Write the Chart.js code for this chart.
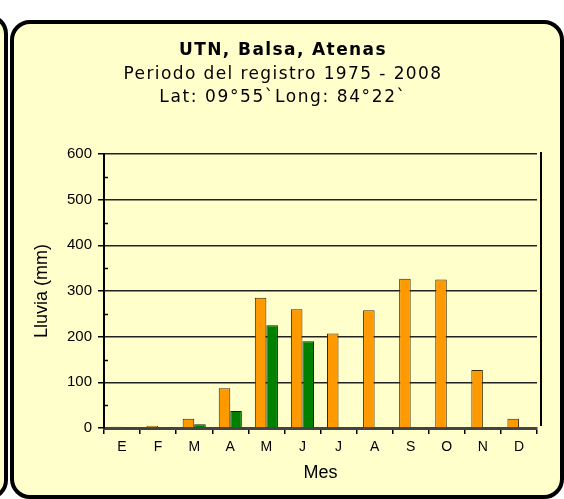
<!DOCTYPE html>
<html>
<head>
<meta charset="utf-8">
<script src="https://cdn.jsdelivr.net/npm/chart.js@4"></script>
<style>
  html, body { margin: 0; padding: 0; background: #ffffff; }
  body { width: 564px; height: 499px; position: relative; overflow: hidden; }
  .leftPanel { position: absolute; left: -200px; top: 14px; width: 200px; height: 478px;
    border: 4px solid #000; border-radius: 20px; background: #FFFFCC; }
  .mainPanel { position: absolute; left: 10px; top: 20px; width: 546px; height: 471px;
    border: 4px solid #000; border-radius: 20px; background: #FFFFCC; }
  canvas { position: absolute; left: 0; top: 0; }
</style>
</head>
<body>
<div class="leftPanel"></div>
<div class="mainPanel"></div>
<canvas id="c" width="564" height="499"></canvas>
<script>
// ---- data ----
const months = ["E", "F", "M", "A", "M", "J", "J", "A", "S", "O", "N", "D"];
const rainOrange = [3, 5, 20, 87, 285, 260, 207, 258, 327, 325, 127, 20];
const rainGreen  = [2, 1, 8, 37, 225, 190, null, null, null, null, null, null];
const yTicks = [0, 100, 200, 300, 400, 500, 600];
const titleLines = ["UTN, Balsa, Atenas", "Periodo del registro 1975 - 2008", "Lat: 09°55`Long: 84°22`"];

const titlePlugin = {
  id: 'titleText',
  afterDraw(chart) {
    const ctx = chart.ctx;
    ctx.save();
    ctx.fillStyle = '#000';
    ctx.textAlign = 'center';
    ctx.textBaseline = 'alphabetic';
    const cx = 283;
    ctx.letterSpacing = '1.4px';
    ctx.font = 'bold 17px "DejaVu Sans"';
    ctx.fillText(titleLines[0], cx, 55);
    ctx.font = '17px "DejaVu Sans"';
    ctx.fillText(titleLines[1], cx, 79);
    ctx.letterSpacing = '1.6px';
    ctx.fillText(titleLines[2], cx, 102);
    ctx.restore();
  }
};

const minorTicks = {
  id: 'minorTicks',
  afterDraw(chart) {
    const y = chart.scales.y;
    const ctx = chart.ctx;
    ctx.save();
    ctx.strokeStyle = '#000';
    ctx.lineWidth = 1.5;
    for (let i = 0; i < yTicks.length - 1; i++) {
      const v = (yTicks[i] + yTicks[i + 1]) / 2;
      const py = Math.round(y.getPixelForValue(v)) + 0.5;
      ctx.beginPath();
      ctx.moveTo(chart.chartArea.left, py);
      ctx.lineTo(chart.chartArea.left + 4, py);
      ctx.stroke();
    }
    ctx.restore();
  }
};

new Chart(document.getElementById('c'), {
  type: 'bar',
  data: {
    labels: months,
    datasets: [
      { data: rainOrange, backgroundColor: '#FF9900', borderColor: '#3a2a00', borderWidth: 1 },
      { data: rainGreen, backgroundColor: '#008000', borderColor: '#002a00', borderWidth: 1 }
    ]
  },
  options: {
    responsive: false,
    animation: false,
    devicePixelRatio: 1,
    layout: { padding: { left: 28, right: 27, top: 154, bottom: 10.6 } },
    datasets: { bar: { categoryPercentage: 0.64, barPercentage: 1.0 } },
    plugins: { legend: { display: false }, tooltip: { enabled: false }, title: { display: false } },
    scales: {
      x: {
        grid: { display: true, drawOnChartArea: false, drawTicks: true, tickLength: 6, color: '#000', lineWidth: 1.5 },
        border: { display: true, color: '#444', width: 3 },
        ticks: { color: '#000', padding: 5, font: { family: '"Liberation Sans", Arial', size: 14 } },
        title: { display: true, text: 'Mes', color: '#000', padding: { top: 1, bottom: 5 },
                 font: { family: '"Liberation Sans", Arial', size: 18 } }
      },
      y: {
        min: 0, max: 600,
        afterFit(scale) { scale.width = 76; },
        afterBuildTicks(scale) { scale.ticks = yTicks.map(v => ({ value: v })); },
        grid: { color: '#222', lineWidth: 1.5, drawTicks: true, tickLength: 6, tickColor: '#000' },
        border: { display: true, color: '#000', width: 2 },
        ticks: { color: '#000', padding: 6, font: { family: '"Liberation Sans", Arial', size: 15 } },
        title: { display: true, text: 'Lluvia (mm)', color: '#000', padding: { top: 3, bottom: 4 },
                 font: { family: '"Liberation Sans", Arial', size: 18 } }
      }
    }
  },
  plugins: [titlePlugin, minorTicks, {
    id: 'rightWall',
    afterDraw(chart) {
      const a = chart.chartArea, ctx = chart.ctx;
      ctx.save();
      ctx.strokeStyle = '#000'; ctx.lineWidth = 2;
      ctx.beginPath(); ctx.moveTo(a.right + 4, a.top - 2); ctx.lineTo(a.right + 4, a.bottom - 2); ctx.stroke();
      ctx.restore();
    }
  }]
});
</script>
</body>
</html>
